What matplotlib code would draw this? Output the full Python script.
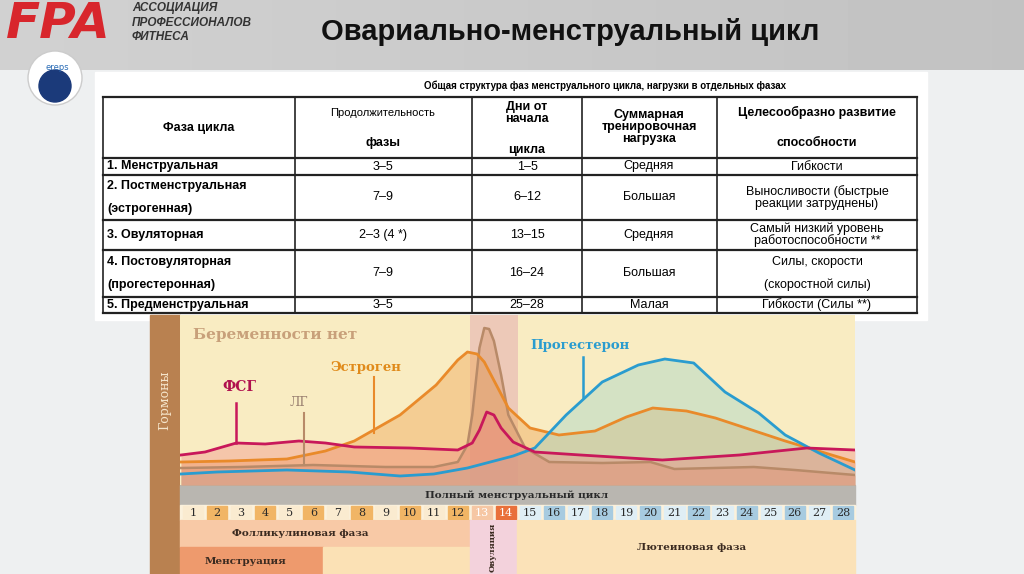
import numpy as np
import matplotlib.pyplot as plt
from matplotlib.patches import Rectangle, Circle

# ---- table data ----
caption = "Общая структура фаз менструального цикла, нагрузки в отдельных фазах"
phases = ["1. Менструальная", "2. Постменструальная\n\n(эстрогенная)", "3. Овуляторная",
          "4. Постовуляторная\n\n(прогестеронная)", "5. Предменструальная"]
durations = ["3–5", "7–9", "2–3 (4 *)", "7–9", "3–5"]
days_from = ["1–5", "6–12", "13–15", "16–24", "25–28"]
loads = ["Средняя", "Большая", "Средняя", "Большая", "Малая"]
abilities = ["Гибкости", "Выносливости (быстрые\nреакции затруднены)",
             "Самый низкий уровень\nработоспособности **", "Силы, скорости\n\n(скоростной силы)",
             "Гибкости (Силы **)"]

# ---- hormone curves (day, level) ----
fsh_day = [0.5, 1.5, 2.8, 4.0, 5.4, 6.5, 7.7, 10.0, 12.0, 12.6, 12.9, 13.2, 13.5, 13.8, 14.3, 15.2, 17.1, 20.5, 23.7, 26.5, 28.5]
fsh_lvl = [30, 33, 42, 41, 44, 42, 38, 37, 35, 42, 55, 73, 70, 57, 43, 33, 30, 25, 30, 37, 35]
est_day = [0.5, 2.5, 4.9, 6.5, 7.7, 9.6, 11.1, 12.0, 12.4, 12.8, 13.1, 13.6, 14.1, 15.0, 16.2, 17.7, 19.0, 20.1, 21.5, 22.7, 25.6, 28.5]
est_lvl = [23, 24, 26, 34, 44, 70, 100, 125, 133, 131, 123, 100, 77, 57, 50, 54, 68, 77, 74, 67, 44, 23]
lh_day = [0.5, 3.0, 6.0, 9.0, 11.0, 12.0, 12.4, 12.6, 12.9, 13.1, 13.3, 13.5, 13.8, 14.1, 14.8, 15.8, 18.0, 20.0, 21.0, 24.3, 26.0, 28.5]
lh_lvl = [17, 18, 20, 18, 18, 23, 40, 70, 137, 157, 156, 144, 110, 70, 37, 23, 22, 23, 16, 18, 15, 10]
prog_day = [0.5, 2.0, 4.9, 7.5, 9.6, 11.0, 12.4, 14.3, 15.2, 16.5, 18.0, 19.5, 20.6, 21.8, 23.1, 24.5, 25.6, 27.0, 28.5]
prog_lvl = [11, 13, 15, 13, 9, 11, 17, 29, 37, 70, 103, 120, 126, 122, 93, 72, 50, 32, 15]

days = list(range(1, 29))
day_colors = (["#faebd0" if d % 2 else "#f1b565" for d in range(1, 13)] + ["#f6c7a4", "#e9703a"]
              + ["#dfeef5" if d % 2 else "#a7cbe0" for d in range(15, 29)])

fig = plt.figure(figsize=(10.24, 5.74), dpi=100)
fig.patch.set_facecolor("#eef0f1")
bg = fig.add_axes([0, 0, 1, 1])
bg.set_xlim(0, 1024)
bg.set_ylim(574, 0)
bg.axis("off")

# header (soft horizontal gradient)
bg.imshow(np.linspace(0.82, 0.76, 64).reshape(1, -1), extent=(0, 1024, 70, 0), cmap="gray",
          vmin=0, vmax=1, aspect="auto", zorder=1)
bg.text(6, 24, "FPA", color="#d8262c", fontsize=36, fontweight="bold", fontstyle="italic",
        va="center", ha="left", family="DejaVu Sans", zorder=2)
for i, t in enumerate(["АССОЦИАЦИЯ", "ПРОФЕССИОНАЛОВ", "ФИТНЕСА"]):
    bg.text(132, 8 + i * 14.5, t, fontsize=8.5, fontweight="bold", fontstyle="italic", color="#333333",
            va="center", family="Liberation Sans", zorder=2)
bg.text(570, 32, "Овариально-менструальный цикл", fontsize=21, fontweight="bold", ha="center",
        va="center", family="Liberation Sans", color="#111111", zorder=2)
bg.add_patch(Circle((55, 78), 27, color="white", ec="#cccccc", zorder=2))
bg.add_patch(Circle((55, 86), 16, color="#1b3a7a", zorder=3))
bg.text(57, 68, "ereps", fontsize=6, color="#2a6cb6", ha="center", va="center", zorder=4)

# table panel
bg.add_patch(Rectangle((95, 72), 832, 248, color="white", zorder=2))
bg.text(605, 86, caption, fontsize=7, fontweight="bold", ha="center", va="center",
        family="Liberation Sans", zorder=3)
cols = [103, 295, 472, 582, 717, 917]
rows = [97, 158, 175, 220, 250, 297, 313]
for y in rows:
    bg.plot([cols[0], cols[-1]], [y, y], color="#222222", lw=1.6, zorder=3)
for x in cols:
    bg.plot([x, x], [rows[0], rows[-1]], color="#222222", lw=1.2, zorder=3)
fn = dict(family="Liberation Sans", fontsize=9, zorder=4, va="center", ha="center")
bg.text(199, 128, "Фаза цикла", fontweight="bold", **fn)
bg.text(383, 113, "Продолжительность", family="Liberation Sans", fontsize=8, zorder=4, ha="center", va="center")
bg.text(383, 143, "фазы", fontweight="bold", **fn)
bg.text(527, 113, "Дни от\nначала", fontweight="bold", linespacing=0.95, **fn)
bg.text(527, 150, "цикла", fontweight="bold", **fn)
bg.text(649, 127, "Суммарная\nтренировочная\nнагрузка", fontweight="bold", linespacing=0.95, **fn)
bg.text(817, 112, "Целесообразно развитие", fontweight="bold", **fn)
bg.text(817, 143, "способности", fontweight="bold", **fn)
for i in range(5):
    yc = (rows[i + 1] + rows[i + 2]) / 2
    bg.text(107, yc, phases[i], family="Liberation Sans", fontsize=9, fontweight="bold",
            ha="left", va="center", linespacing=0.95, zorder=4)
    bg.text(383, yc, durations[i], **fn)
    bg.text(527, yc, days_from[i], **fn)
    bg.text(649, yc, loads[i], **fn)
    bg.text(817, yc, abilities[i], linespacing=0.95, **fn)

# chart frame
bg.add_patch(Rectangle((150, 315), 30, 259, color="#b98150", zorder=2))
bg.text(165, 400, "Гормоны", rotation=90, color="#f6e6cc", fontsize=9, family="DejaVu Serif",
        ha="center", va="center", zorder=3)
bg.add_patch(Rectangle((180, 485), 675, 20, color="#b9b6b0", zorder=2))
bg.text(517, 495, "Полный менструальный цикл", fontsize=7.5, fontweight="bold", family="DejaVu Serif",
        ha="center", va="center", color="#2a2a2a", zorder=3)
bg.add_patch(Rectangle((180, 505), 675, 15, color="#fbf1dc", zorder=2))
bg.add_patch(Rectangle((180, 520), 290, 27, color="#f8c9a6", zorder=2))
bg.text(300, 533, "Фолликулиновая фаза", fontsize=7.5, fontweight="bold", family="DejaVu Serif",
        ha="center", va="center", color="#3a2a20", zorder=3)
bg.add_patch(Rectangle((180, 547), 143, 27, color="#ee9a6d", zorder=2))
bg.text(245, 561, "Менструация", fontsize=7.5, fontweight="bold", family="DejaVu Serif",
        ha="center", va="center", color="#3a2a20", zorder=3)
bg.add_patch(Rectangle((323, 547), 147, 27, color="#fbe1b5", zorder=2))
bg.add_patch(Rectangle((470, 520), 47, 54, color="#f3d2dc", zorder=2))
bg.text(493, 547, "Овуляция", rotation=90, fontsize=6, fontweight="bold", family="DejaVu Serif",
        ha="center", va="center", color="#3a2a20", zorder=3)
bg.add_patch(Rectangle((517, 520), 338, 54, color="#fbe2b8", zorder=2))
bg.text(692, 547, "Лютеиновая фаза", fontsize=7.5, fontweight="bold", family="DejaVu Serif",
        ha="center", va="center", color="#3a2a20", zorder=3)

# hormone axes: px 180..855 x, 485..315 y
ax = fig.add_axes([180 / 1024, (574 - 485) / 574, 675 / 1024, 170 / 574])
ax.set_xlim(0.46, 28.5)
ax.set_ylim(0, 170)
ax.set_facecolor("#f9ecc2")
for s in ax.spines.values():
    s.set_visible(False)
ax.set_xticks([])
ax.set_yticks([])
ax.axvspan(12.5, 14.5, color="#d88aa8", alpha=0.35, lw=0)
ax.fill_between(est_day, est_lvl, color="#f0a85a", alpha=0.45, lw=0)
ax.fill_between(prog_day, prog_lvl, color="#a8d8c8", alpha=0.45, lw=0)
ax.fill_between(lh_day, lh_lvl, color="#d89a70", alpha=0.45, lw=0)
ax.fill_between(fsh_day, fsh_lvl, color="#f08080", alpha=0.35, lw=0)
ax.plot(lh_day, lh_lvl, color="#b88a68", lw=1.8)
ax.plot(est_day, est_lvl, color="#e98a2a", lw=2)
ax.plot(prog_day, prog_lvl, color="#2a9ccf", lw=2)
ax.plot(fsh_day, fsh_lvl, color="#c8185a", lw=2)
# labels with leader lines
ax.plot([2.8, 2.8], [42, 82], color="#c8185a", lw=1.8)
ax.text(2.2, 98, "ФСГ", color="#b0104e", fontsize=10, fontweight="bold", family="DejaVu Serif", va="center")
ax.plot([5.6, 5.6], [20, 72], color="#b88a68", lw=1.5)
ax.text(5.0, 82, "ЛГ", color="#9a8070", fontsize=9, family="DejaVu Serif", va="center")
ax.plot([8.5, 8.5], [52, 108], color="#e98a2a", lw=1.5)
ax.text(6.7, 118, "Эстроген", color="#e08a1a", fontsize=9.5, fontweight="bold", family="DejaVu Serif", va="center")
ax.plot([17.2, 17.2], [88, 128], color="#2a9ccf", lw=1.8)
ax.text(15.0, 140, "Прогестерон", color="#2a9ccf", fontsize=9.5, fontweight="bold", family="DejaVu Serif", va="center")
ax.text(1.0, 150, "Беременности нет", color="#c8a07a", fontsize=11, fontweight="bold", family="DejaVu Serif", va="center")

# day cells
dax = fig.add_axes([180 / 1024, (574 - 520) / 574, 675 / 1024, 15 / 574])
dax.set_xlim(0.46, 28.5)
dax.set_ylim(0, 1)
dax.axis("off")
for d, c in zip(days, day_colors):
    dax.add_patch(Rectangle((d - 0.42, 0.05), 0.84, 0.9, color=c))
    tc = "white" if d in (13, 14) else "#2a2a2a"
    dax.text(d, 0.5, str(d), ha="center", va="center", fontsize=8, family="DejaVu Serif", color=tc)

fig.savefig("out.png", dpi=100, facecolor=fig.get_facecolor())
